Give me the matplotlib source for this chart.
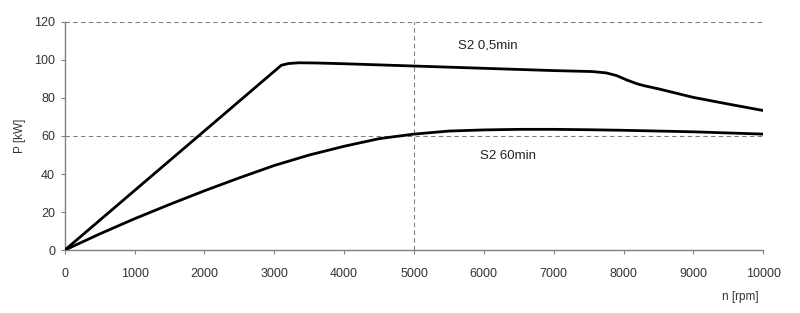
import matplotlib
matplotlib.use("Agg")
import matplotlib.pyplot as plt

plt.rcParams['font.family'] = ['Liberation Sans', 'DejaVu Sans']

rpm_short = [0, 3100, 3200, 3350, 3600, 4000, 5000, 5500, 6000, 7000, 7550, 7750, 7900,
             8050, 8200, 8300, 8500, 9000, 9500, 10000]
p_short = [0, 97.2, 98.1, 98.5, 98.4, 98.0, 96.8, 96.2, 95.6, 94.4, 93.9, 93.2, 91.8,
           89.4, 87.4, 86.4, 84.8, 80.3, 76.8, 73.4]

rpm_cont = [0, 500, 1000, 1500, 2000, 2500, 3000, 3500, 4000, 4500, 5000, 5500, 6000,
            6500, 7000, 7500, 8000, 8500, 9000, 9500, 10000]
p_cont = [0, 8.5, 16.5, 24, 31.2, 38, 44.5, 50, 54.6, 58.6, 61, 62.6, 63.2,
          63.5, 63.5, 63.3, 63, 62.6, 62.2, 61.6, 61]

xticks = [0, 1000, 2000, 3000, 4000, 5000, 6000, 7000, 8000, 9000, 10000]
yticks = [0, 20, 40, 60, 80, 100, 120]
label_short = "S2 0,5min"
label_cont = "S2 60min"

fig = plt.figure(figsize=(8, 3.13), dpi=100)
ax = fig.add_axes([0.081, 0.201, 0.873, 0.729])

gridc = '#808080'
ax.axhline(60, color=gridc, lw=0.8, ls=(0, (4, 3)), zorder=1)
ax.axhline(120, color=gridc, lw=0.8, ls=(0, (4, 3)), zorder=1, clip_on=False)
ax.axvline(5000, color=gridc, lw=0.8, ls=(0, (4, 3)), zorder=1)

ax.plot(rpm_short, p_short, color='black', lw=2.0, zorder=3, solid_joinstyle='round')
ax.plot(rpm_cont, p_cont, color='black', lw=2.0, zorder=3, solid_joinstyle='round')

ax.set_xlim(0, 10000)
ax.set_ylim(0, 120)
ax.set_xticks(xticks)
ax.set_yticks(yticks)

for s in ['top', 'right']:
    ax.spines[s].set_visible(False)
for s in ['left', 'bottom']:
    ax.spines[s].set_color('#808080')
    ax.spines[s].set_linewidth(1.0)

ax.tick_params(axis='x', direction='out', length=3, width=0.8, color='#808080',
               pad=10, labelsize=9, labelcolor='#333333')
ax.tick_params(axis='y', direction='out', length=3, width=0.8, color='#808080',
               pad=4, labelsize=9, labelcolor='#333333')

ax.text(5630, 107.5, label_short, fontsize=9.5, color='#222222', ha='left', va='center')
ax.text(5950, 49.5, label_cont, fontsize=9.5, color='#222222', ha='left', va='center')

fig.text(0.025, 0.565, "P [kW]", rotation=90, fontsize=8.5, color='#333333', ha='center', va='center')
fig.text(0.925, 0.05, "n [rpm]", fontsize=8.5, color='#333333', ha='center', va='center')

fig.savefig("out.png", dpi=100)
